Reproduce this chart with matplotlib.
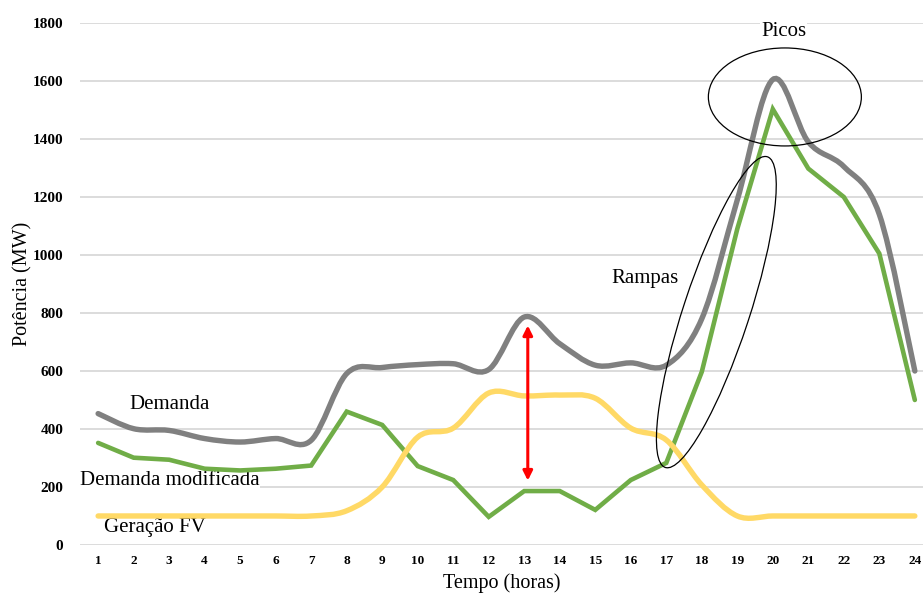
import matplotlib
matplotlib.use("Agg")
import matplotlib.pyplot as plt
from matplotlib.path import Path
from matplotlib.patches import PathPatch, Ellipse
from matplotlib.transforms import ScaledTranslation

plt.rcParams['font.family'] = ['Liberation Serif', 'DejaVu Serif']

# dados
horas = list(range(1, 25))
demanda = [453, 401, 395, 367, 355, 367, 361, 591, 612, 622, 625, 605,
           786, 694, 620, 628, 620, 780, 1190, 1605, 1390, 1305, 1140, 600]
demanda_mod = [352, 301, 294, 263, 257, 263, 274, 460, 414, 272, 224, 97,
               186, 186, 121, 224, 283, 597, 1090, 1503, 1298, 1200, 1005, 500]
geracao_fv = [100, 100, 100, 100, 100, 100, 100, 118, 200, 372, 403, 524,
              514, 517, 506, 403, 362, 207, 100, 100, 100, 100, 100, 100]
yticks = list(range(0, 1801, 200))


def curva_suave(x, y):
    # bezier tipo excel (catmull-rom)
    n = len(x)
    verts = [(x[0], y[0])]
    codes = [Path.MOVETO]
    for i in range(n - 1):
        x0, y0 = (x[i - 1], y[i - 1]) if i > 0 else (x[i], y[i])
        x3, y3 = (x[i + 2], y[i + 2]) if i + 2 < n else (x[i + 1], y[i + 1])
        c1 = (x[i] + (x[i + 1] - x0) / 6, y[i] + (y[i + 1] - y0) / 6)
        c2 = (x[i + 1] - (x3 - x[i]) / 6, y[i + 1] - (y3 - y[i]) / 6)
        verts += [c1, c2, (x[i + 1], y[i + 1])]
        codes += [Path.CURVE4] * 3
    return Path(verts, codes)


fig = plt.figure(figsize=(9.23, 5.96), dpi=100)
ax = fig.add_axes([0.0867, 0.0856, 0.9133, 0.8758])

ax.add_patch(PathPatch(curva_suave(horas, demanda), fill=False,
                       edgecolor='#808080', lw=3.9, capstyle='round', zorder=3))
ax.plot(horas, demanda_mod, color='#70AD47', lw=3.3, solid_capstyle='round',
        solid_joinstyle='miter', zorder=4)
ax.add_patch(PathPatch(curva_suave(horas, geracao_fv), fill=False,
                       edgecolor='#FFD966', lw=3.9, capstyle='round', zorder=5))

ax.set_xlim(0.49, 24.23)
ax.set_ylim(0, 1800)
ax.set_xticks(horas)
ax.set_yticks(yticks)
ax.set_xticklabels([str(h) for h in horas], fontsize=9.5, fontweight='bold')
ax.set_yticklabels([str(v) for v in yticks], fontsize=11, fontweight='bold')
ax.tick_params(length=0)
ax.tick_params(axis='y', pad=12)
ax.tick_params(axis='x', pad=7)
ax.grid(axis='y', color='#d9d9d9', lw=1.3)
ax.set_axisbelow(True)
for s in ax.spines.values():
    s.set_visible(False)

ax.set_xlabel('Tempo (horas)', fontsize=14.5, labelpad=5)
ax.set_ylabel('Potência (MW)', fontsize=14.5, labelpad=0)

# textos (caixas brancas por cima da grelha)
caixa = dict(facecolor='white', edgecolor='none', pad=0.5)
ax.text(3.0, 483, 'Demanda', fontsize=15, ha='center', va='center', bbox=caixa, zorder=2)
ax.text(0.49, 221, 'Demanda modificada', fontsize=15, ha='left', va='center',
        bbox=caixa, zorder=2)
ax.text(2.6, 62, 'Geração FV', fontsize=15, ha='center', va='center', bbox=caixa, zorder=2)
ax.text(16.4, 920, 'Rampas', fontsize=15, ha='center', va='center', bbox=caixa, zorder=2)
ax.text(20.3, 1772, 'Picos', fontsize=15, ha='center', va='center', bbox=caixa, zorder=2)

# elipses
ax.add_patch(Ellipse((0, 0), 1.53, 0.98, fill=False, edgecolor='black', lw=0.9,
                     transform=fig.dpi_scale_trans + ScaledTranslation(20.34, 1545, ax.transData),
                     zorder=6))
ax.add_patch(Ellipse((0, 0), 3.27, 0.66, angle=71.8, fill=False, edgecolor='black', lw=0.9,
                     transform=fig.dpi_scale_trans + ScaledTranslation(18.41, 803, ax.transData),
                     zorder=6))

# seta vermelha
ax.annotate('', xy=(13.1, 757), xytext=(13.1, 222),
            arrowprops=dict(arrowstyle='<|-|>', color='red', lw=2.2,
                            mutation_scale=14, shrinkA=0, shrinkB=0), zorder=7)

fig.savefig('out.png', dpi=100)
